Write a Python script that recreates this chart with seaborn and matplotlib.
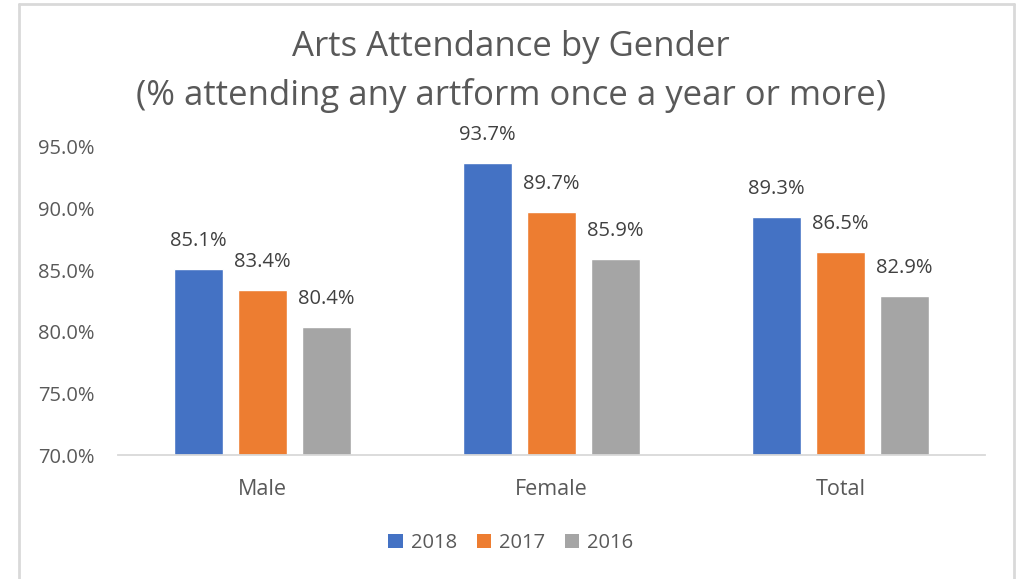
import matplotlib
matplotlib.use("Agg")
import matplotlib.pyplot as plt
from matplotlib.lines import Line2D
from matplotlib.patches import Patch
import seaborn as sns
import pandas as pd

categories = ["Male", "Female", "Total"]
years = ["2018", "2017", "2016"]
values_2018 = [85.1, 93.7, 89.3]
values_2017 = [83.4, 89.7, 86.5]
values_2016 = [80.4, 85.9, 82.9]
y_ticks = [70.0, 75.0, 80.0, 85.0, 90.0, 95.0]

colors = ["#4472C4", "#ED7D31", "#A5A5A5"]
text_color = "#595959"
label_color = "#404040"

rows = []
for yr, vals in zip(years, [values_2018, values_2017, values_2016]):
    for c, v in zip(categories, vals):
        rows.append({"Category": c, "Year": yr, "Value": v})
df = pd.DataFrame(rows)

sns.set_theme(style="white")
plt.rcParams["font.family"] = ["Open Sans", "DejaVu Sans"]

W, H = 1022, 579
fig = plt.figure(figsize=(W / 100, H / 100), dpi=100)
ax = fig.add_axes([118 / W, 1 - 455 / H, (985 - 118) / W, (455 - 147) / H])

sns.barplot(data=df, x="Category", y="Value", hue="Year", order=categories,
            hue_order=years, palette=colors, width=0.664, gap=0.22,
            saturation=1, ax=ax, legend=False, errorbar=None)

for cont in ax.containers:
    ax.bar_label(cont, labels=[f"{v:.1f}%" for v in cont.datavalues],
                 padding=13, fontsize=14.5, color=label_color)

ax.set_ylim(70, 95)
ax.set_xlim(-0.5, 2.5)
ax.set_yticks(y_ticks)
ax.set_yticklabels([f"{t:.1f}%" for t in y_ticks], fontsize=14.5, color=text_color)
ax.tick_params(axis="x", labelsize=15.5, colors=text_color, length=0, pad=17)
ax.tick_params(axis="y", length=0, pad=17)
ax.set_xlabel("")
ax.set_ylabel("")
for s in ["top", "right", "left"]:
    ax.spines[s].set_visible(False)
ax.spines["bottom"].set_color("#D9D9D9")
ax.spines["bottom"].set_linewidth(1.3)
ax.patch.set_alpha(0)

fig.text(0.5, 1 - 47 / H, "Arts Attendance by Gender", ha="center", va="center",
         fontsize=25, color=text_color)
fig.text(0.5, 1 - 95 / H, "(% attending any artform once a year or more)",
         ha="center", va="center", fontsize=25, color=text_color)

handles = [Patch(facecolor=c, edgecolor="none") for c in colors]
fig.legend(handles, years, loc="center", bbox_to_anchor=(0.5, 1 - 543 / H),
           ncol=3, frameon=False, fontsize=14.5, handlelength=0.7,
           handleheight=0.7, handletextpad=0.4, columnspacing=1.0,
           labelcolor=text_color)

bc = "#D9D9D9"
fig.add_artist(Line2D([18.5 / W, 18.5 / W], [0, 1 - 4 / H], color=bc, lw=2))
fig.add_artist(Line2D([18.5 / W, 1014 / W], [1 - 4 / H, 1 - 4 / H], color=bc, lw=2))
fig.add_artist(Line2D([1014 / W, 1014 / W], [0, 1 - 4 / H], color=bc, lw=2))

fig.savefig("out.png", dpi=100, facecolor="white")
